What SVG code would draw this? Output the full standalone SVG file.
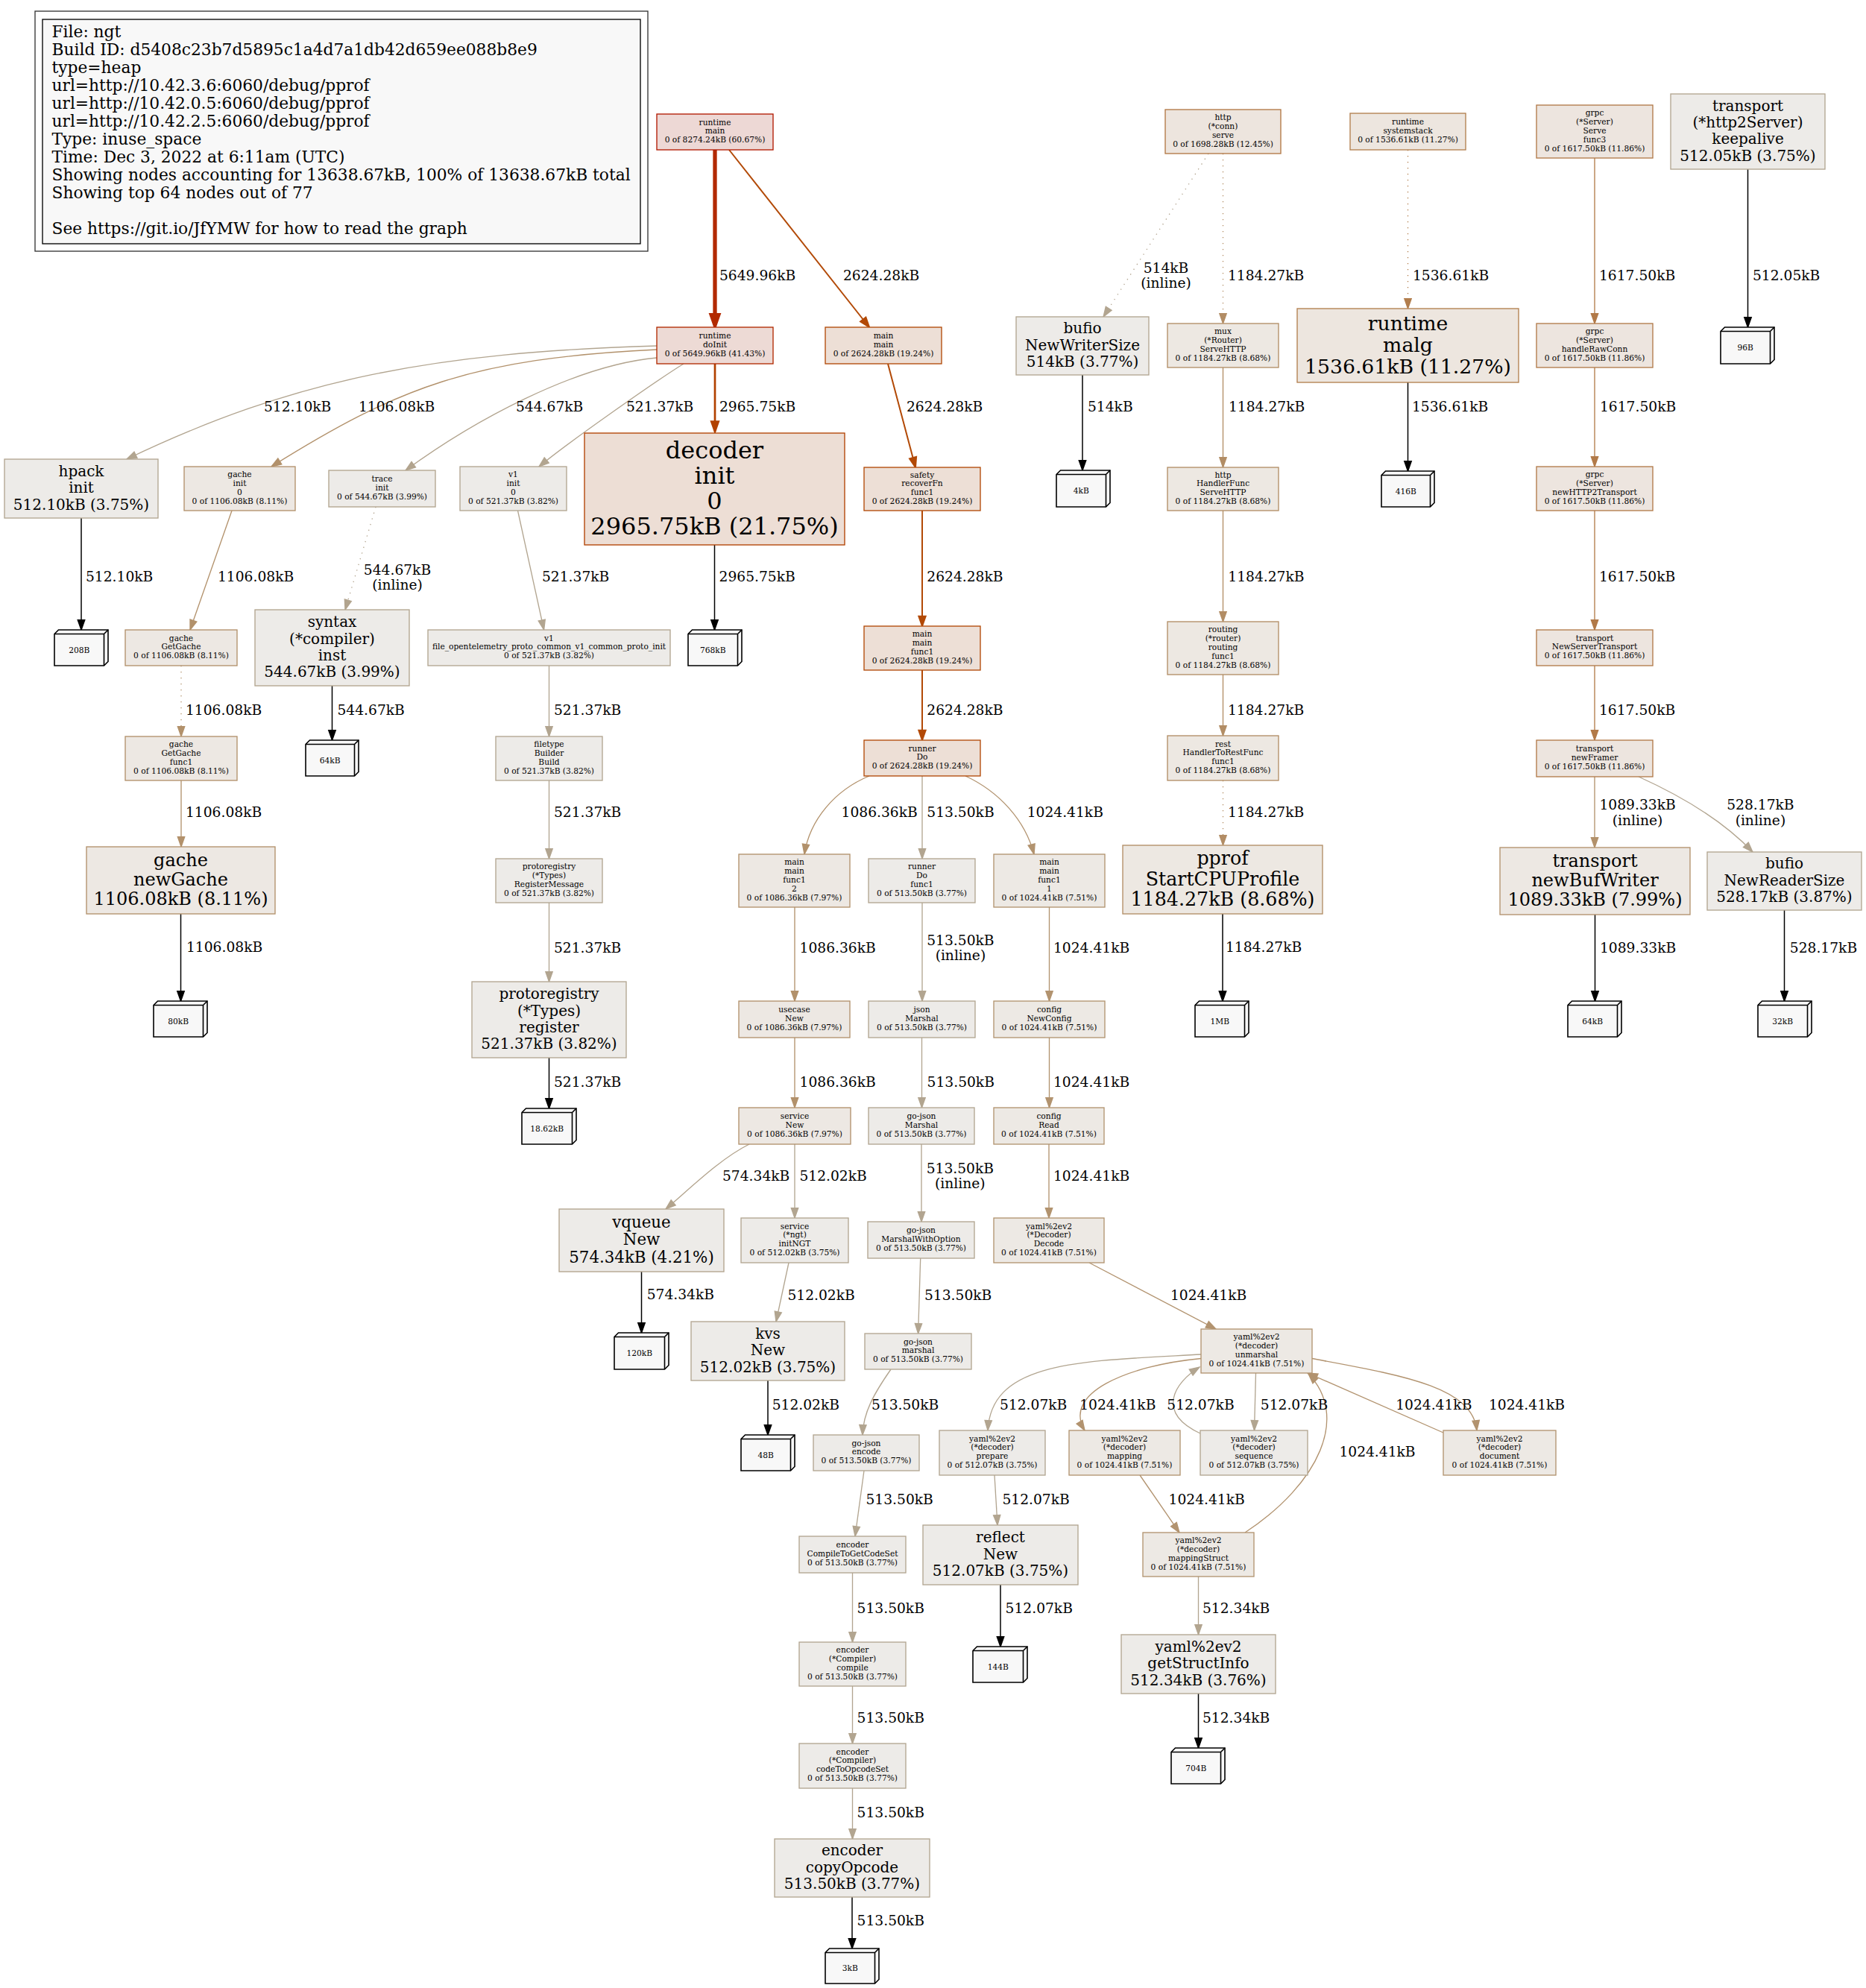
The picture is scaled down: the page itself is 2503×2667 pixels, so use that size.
<svg xmlns="http://www.w3.org/2000/svg" width="2503" height="2667" viewBox="0 0 2503 2667">
<style>
text{font-family:"DejaVu Serif","Liberation Serif",serif;fill:#000}
.s{font-size:10.67px;text-anchor:middle}
.b20{font-size:20px;text-anchor:middle}
.b21{font-size:21.33px;text-anchor:middle}
.b24{font-size:24px;text-anchor:middle}
.b25{font-size:25.33px;text-anchor:middle}
.b26{font-size:26.67px;text-anchor:middle}
.b32{font-size:32px;text-anchor:middle}
.el{font-size:18.67px}
.elc{font-size:18.67px;text-anchor:middle}
.lg{font-size:21.75px}
.t3 text{font-size:10.67px;text-anchor:middle}
rect{stroke-width:1.33}
.t3 path{fill:#f8f8f8;stroke:#000;stroke-width:1.6;stroke-linejoin:miter}
.t3 path.i{fill:none}
.f18 rect{fill:#edd8d5;stroke:#b21800}
.f29 rect{fill:#eddad5;stroke:#b22900}
.f49 rect{fill:#eddfd6;stroke:#b24906}
.f41 rect{fill:#edded5;stroke:#b24100}
.f77 rect{fill:#ede5de;stroke:#b27743}
.f7e rect{fill:#ede6df;stroke:#b27e4d}
.f7a rect{fill:#ede5df;stroke:#b27a48}
.f8d rect{fill:#ede8e2;stroke:#b28d65}
.f90 rect{fill:#ede8e3;stroke:#b2906a}
.f91 rect{fill:#ede8e3;stroke:#b2916b}
.f93 rect{fill:#ede9e4;stroke:#b2936f}
.fa3 rect{fill:#edebe8;stroke:#b2a38c}
.fa4 rect{fill:#edebe8;stroke:#b2a48e}
.fa5 rect{fill:#edebe8;stroke:#b2a590}
#edges path{fill:none;stroke-width:1.33}
#edges .c1{stroke:#b22900;stroke-width:5.3;marker-end:url(#m1)}
#edges .c2{stroke:#b24100;stroke-width:2.7;marker-end:url(#m2)}
#edges .c3{stroke:#b24906;stroke-width:2;marker-end:url(#m3)}
#edges .c4{stroke:#b2a590;marker-end:url(#m4)}
#edges .c5{stroke:#b2916b;marker-end:url(#m5)}
#edges .c6{stroke:#b2a48e;marker-end:url(#m6)}
#edges .c7{stroke:#b2936f;marker-end:url(#m7)}
#edges .c8{stroke:#b28d65;marker-end:url(#m8)}
#edges .c9{stroke:#b27e4d;marker-end:url(#m9)}
#edges .c10{stroke:#b27a48;marker-end:url(#m10)}
#edges .c11{stroke:#b2a38c;marker-end:url(#m11)}
#edges .k{stroke:#000;stroke-width:1.5;marker-end:url(#mk)}
#edges .d{stroke-dasharray:1.33 6.67}
</style>
<defs>
<marker id="m1" markerUnits="userSpaceOnUse" orient="auto" refX="13.33" refY="0" markerWidth="30" markerHeight="30" overflow="visible"><path d="M0,-4.67L13.33,0L0,4.67Z" fill="#b22900" stroke="#b22900" stroke-width="5.3"/></marker>
<marker id="m2" markerUnits="userSpaceOnUse" orient="auto" refX="13.33" refY="0" markerWidth="30" markerHeight="30" overflow="visible"><path d="M0,-4.67L13.33,0L0,4.67Z" fill="#b24100" stroke="#b24100" stroke-width="2.7"/></marker>
<marker id="m3" markerUnits="userSpaceOnUse" orient="auto" refX="13.33" refY="0" markerWidth="30" markerHeight="30" overflow="visible"><path d="M0,-4.67L13.33,0L0,4.67Z" fill="#b24906" stroke="#b24906" stroke-width="2"/></marker>
<marker id="m4" markerUnits="userSpaceOnUse" orient="auto" refX="13.33" refY="0" markerWidth="30" markerHeight="30" overflow="visible"><path d="M0,-4.67L13.33,0L0,4.67Z" fill="#b2a590" stroke="#b2a590" stroke-width="1.33"/></marker>
<marker id="m5" markerUnits="userSpaceOnUse" orient="auto" refX="13.33" refY="0" markerWidth="30" markerHeight="30" overflow="visible"><path d="M0,-4.67L13.33,0L0,4.67Z" fill="#b2916b" stroke="#b2916b" stroke-width="1.33"/></marker>
<marker id="m6" markerUnits="userSpaceOnUse" orient="auto" refX="13.33" refY="0" markerWidth="30" markerHeight="30" overflow="visible"><path d="M0,-4.67L13.33,0L0,4.67Z" fill="#b2a48e" stroke="#b2a48e" stroke-width="1.33"/></marker>
<marker id="m7" markerUnits="userSpaceOnUse" orient="auto" refX="13.33" refY="0" markerWidth="30" markerHeight="30" overflow="visible"><path d="M0,-4.67L13.33,0L0,4.67Z" fill="#b2936f" stroke="#b2936f" stroke-width="1.33"/></marker>
<marker id="m8" markerUnits="userSpaceOnUse" orient="auto" refX="13.33" refY="0" markerWidth="30" markerHeight="30" overflow="visible"><path d="M0,-4.67L13.33,0L0,4.67Z" fill="#b28d65" stroke="#b28d65" stroke-width="1.33"/></marker>
<marker id="m9" markerUnits="userSpaceOnUse" orient="auto" refX="13.33" refY="0" markerWidth="30" markerHeight="30" overflow="visible"><path d="M0,-4.67L13.33,0L0,4.67Z" fill="#b27e4d" stroke="#b27e4d" stroke-width="1.33"/></marker>
<marker id="m10" markerUnits="userSpaceOnUse" orient="auto" refX="13.33" refY="0" markerWidth="30" markerHeight="30" overflow="visible"><path d="M0,-4.67L13.33,0L0,4.67Z" fill="#b27a48" stroke="#b27a48" stroke-width="1.33"/></marker>
<marker id="m11" markerUnits="userSpaceOnUse" orient="auto" refX="13.33" refY="0" markerWidth="30" markerHeight="30" overflow="visible"><path d="M0,-4.67L13.33,0L0,4.67Z" fill="#b2a38c" stroke="#b2a38c" stroke-width="1.33"/></marker>
<marker id="mk" markerUnits="userSpaceOnUse" orient="auto" refX="13.33" refY="0" markerWidth="30" markerHeight="30" overflow="visible"><path d="M0,-4.67L13.33,0L0,4.67Z" fill="#000" stroke="#000" stroke-width="1.5"/></marker>
</defs>
<rect x="0" y="0" width="2503" height="2667" fill="#fff" stroke="none"/>

<g id="legend">
<rect x="47" y="15" width="822" height="322" fill="#fff" stroke="#333" stroke-width="1.7"/>
<rect x="57" y="26" width="802" height="301" fill="#f8f8f8" stroke="#000" stroke-width="1.5"/>
<text class="lg" x="69.5" y="50"><tspan x="69.5">File: ngt</tspan><tspan x="69.5" dy="24">Build ID: d5408c23b7d5895c1a4d7a1db42d659ee088b8e9</tspan><tspan x="69.5" dy="24">type=heap</tspan><tspan x="69.5" dy="24">url=http://10.42.3.6:6060/debug/pprof</tspan><tspan x="69.5" dy="24">url=http://10.42.0.5:6060/debug/pprof</tspan><tspan x="69.5" dy="24">url=http://10.42.2.5:6060/debug/pprof</tspan><tspan x="69.5" dy="24">Type: inuse_space</tspan><tspan x="69.5" dy="24">Time: Dec 3, 2022 at 6:11am (UTC)</tspan><tspan x="69.5" dy="24">Showing nodes accounting for 13638.67kB, 100% of 13638.67kB total</tspan><tspan x="69.5" dy="24">Showing top 64 nodes out of 77</tspan><tspan x="69.5" dy="48">See https://git.io/JfYMW for how to read the graph</tspan></text>
</g>

<g id="edges">
<path class="c1" d="M959,201 L959,436"/>
<path class="c2" d="M959,488 L959,579"/>
<path class="c3" d="M978,201 L1166,439"/>
<path class="c3" d="M1191,488 L1228,627"/>
<path class="c3" d="M1237,685 L1237,840"/>
<path class="c3" d="M1237,899 L1237,993"/>
<path class="c4" d="M881,464 C581,473 395,508 170,616"/>
<path class="c5" d="M881,469 C631,481 534,520 364,626"/>
<path class="c6" d="M881,480 C770,490 633,566 544,631"/>
<path class="c4" d="M917,488 C880,511 760,595 723,626"/>
<path class="c4 d" d="M1621,206 L1480,425"/>
<path class="c8 d" d="M1640.5,206 L1640.5,434"/>
<path class="c9 d" d="M1888.5,201 L1888.5,414"/>
<path class="c10" d="M2139,212 L2139,434"/>
<path class="k" d="M2344.5,227 L2344.5,439"/>
<path class="k" d="M1452,503 L1452,631"/>
<path class="k" d="M1888.5,513 L1888.5,632"/>
<path class="c10" d="M2139,493 L2139,626"/>
<path class="c8" d="M1640.5,493 L1640.5,627"/>
<path class="k" d="M109,695 L109,845"/>
<path class="c5" d="M311,685 L255,845"/>
<path class="c6 d" d="M504,680 L463,818"/>
<path class="c4" d="M694.5,685 L729.6,845"/>
<path class="k" d="M958.5,731 L958.5,845"/>
<path class="c8" d="M1640.5,685 L1640.5,834"/>
<path class="c10" d="M2139,685 L2139,845"/>
<path class="c5 d" d="M243,893 L243,988"/>
<path class="k" d="M445.5,920 L445.5,993"/>
<path class="c4" d="M736.5,893 L736.5,988"/>
<path class="c8" d="M1640.5,905 L1640.5,987"/>
<path class="c10" d="M2139,893 L2139,993"/>
<path class="c5" d="M243,1047 L243,1136"/>
<path class="c4" d="M736.5,1047 L736.5,1152"/>
<path class="c5" d="M1166,1041 C1120,1060 1086,1100 1079,1146"/>
<path class="c4" d="M1237,1041 L1237,1152"/>
<path class="c7" d="M1295,1041 C1340,1062 1375,1100 1387,1146"/>
<path class="c8 d" d="M1640.5,1047 L1640.5,1134"/>
<path class="c5" d="M2139,1042 L2139,1137"/>
<path class="c4" d="M2198,1042 C2260,1070 2315,1105 2351,1143"/>
<path class="k" d="M242.5,1226 L242.5,1343"/>
<path class="c4" d="M736.5,1211 L736.5,1317"/>
<path class="c5" d="M1066,1217 L1066,1343"/>
<path class="c4" d="M1237,1211 L1237,1343"/>
<path class="c7" d="M1407.5,1217 L1407.5,1343"/>
<path class="k" d="M1640,1226 L1640,1343"/>
<path class="k" d="M2139.5,1227 L2139.5,1343"/>
<path class="k" d="M2393.5,1221 L2393.5,1343"/>
<path class="k" d="M736.5,1419 L736.5,1487"/>
<path class="c5" d="M1066,1392 L1066,1486"/>
<path class="c4" d="M1236.5,1392 L1236.5,1486"/>
<path class="c7" d="M1407.5,1392 L1407.5,1486"/>
<path class="c11" d="M1005,1535 C965,1555 925,1595 893,1622"/>
<path class="c4" d="M1066,1535 L1066,1634"/>
<path class="c4" d="M1236,1535 L1236,1639"/>
<path class="c7" d="M1407,1535 L1407,1634"/>
<path class="k" d="M860.5,1706 L860.5,1788"/>
<path class="c4" d="M1058,1694 L1041,1773"/>
<path class="c4" d="M1234.7,1688 L1231.6,1789"/>
<path class="c7" d="M1461,1694 L1631,1783"/>
<path class="k" d="M1030,1852 L1030,1925"/>
<path class="c4" d="M1195,1837 C1172,1870 1158,1895 1157,1925"/>
<path class="c4" d="M1611,1817 C1450,1826 1330,1825 1325,1919"/>
<path class="c7" d="M1611,1822.5 C1510,1832 1425,1870 1455,1919"/>
<path class="c4" d="M1610,1923 C1550,1895 1575,1855 1609,1834"/>
<path class="c4" d="M1684.5,1842 L1682.5,1919"/>
<path class="c7" d="M1936,1922 L1754,1842"/>
<path class="c7" d="M1760,1822.5 C1880,1845 1975,1860 1981,1919"/>
<path class="c7" d="M1670,2056 C1770,1990 1810,1900 1755,1843"/>
<path class="c7" d="M1529,1979 L1582,2056"/>
<path class="c4" d="M1334,1979 L1338,2046"/>
<path class="c4" d="M1159,1973 L1147,2061"/>
<path class="c4" d="M1143.5,2110 L1143.5,2203"/>
<path class="c4" d="M1143.5,2262 L1143.5,2339"/>
<path class="c4" d="M1143.5,2399 L1143.5,2467"/>
<path class="k" d="M1143,2545 L1143,2614"/>
<path class="k" d="M1342,2126 L1342,2209"/>
<path class="c4" d="M1607.5,2115 L1607.5,2193"/>
<path class="k" d="M1607.5,2272 L1607.5,2345"/>

<text class="el" x="965" y="375.7">5649.96kB</text>
<text class="el" x="1131" y="375.7">2624.28kB</text>
<text class="el" x="965" y="551.7">2965.75kB</text>
<text class="el" x="1216" y="551.7">2624.28kB</text>
<text class="el" x="1459" y="551.7">514kB</text>
<text class="elc" x="1564" y="366"><tspan x="1564">514kB</tspan><tspan x="1564" dy="20">(inline)</tspan></text>
<text class="el" x="1647" y="375.7">1184.27kB</text>
<text class="el" x="1895" y="375.7">1536.61kB</text>
<text class="el" x="2145" y="375.7">1617.50kB</text>
<text class="el" x="2351" y="375.7">512.05kB</text>
<text class="el" x="354" y="551.7">512.10kB</text>
<text class="el" x="481" y="551.7">1106.08kB</text>
<text class="el" x="692" y="551.7">544.67kB</text>
<text class="el" x="840" y="551.7">521.37kB</text>
<text class="el" x="1648" y="551.7">1184.27kB</text>
<text class="el" x="1894" y="551.7">1536.61kB</text>
<text class="el" x="2146" y="551.7">1617.50kB</text>
<text class="el" x="115" y="780.3">512.10kB</text>
<text class="el" x="292" y="780.3">1106.08kB</text>
<text class="elc" x="533" y="770.7"><tspan x="533">544.67kB</tspan><tspan x="533" dy="20">(inline)</tspan></text>
<text class="el" x="727" y="780.3">521.37kB</text>
<text class="el" x="964.6" y="780.3">2965.75kB</text>
<text class="el" x="1243.3" y="779.7">2624.28kB</text>
<text class="el" x="1647.3" y="779.7">1184.27kB</text>
<text class="el" x="2145" y="780.4">1617.50kB</text>
<text class="el" x="249" y="958.7">1106.08kB</text>
<text class="el" x="452.5" y="958.7">544.67kB</text>
<text class="el" x="743" y="958.7">521.37kB</text>
<text class="el" x="1243.3" y="958.9">2624.28kB</text>
<text class="el" x="1647" y="958.7">1184.27kB</text>
<text class="el" x="2145" y="959">1617.50kB</text>
<text class="el" x="249" y="1096">1106.08kB</text>
<text class="el" x="743" y="1095.7">521.37kB</text>
<text class="el" x="1128.6" y="1096.1">1086.36kB</text>
<text class="el" x="1243.3" y="1096.1">513.50kB</text>
<text class="el" x="1377.7" y="1096.1">1024.41kB</text>
<text class="el" x="1647" y="1095.7">1184.27kB</text>
<text class="elc" x="2196.6" y="1086"><tspan x="2196.6">1089.33kB</tspan><tspan x="2196.6" dy="20.7">(inline)</tspan></text>
<text class="elc" x="2361.4" y="1085.7"><tspan x="2361.4">528.17kB</tspan><tspan x="2361.4" dy="21">(inline)</tspan></text>
<text class="el" x="250" y="1276.7">1106.08kB</text>
<text class="el" x="743" y="1278.4">521.37kB</text>
<text class="el" x="1072.6" y="1278.4">1086.36kB</text>
<text class="elc" x="1288.4" y="1268.4"><tspan x="1288.4">513.50kB</tspan><tspan x="1288.4" dy="20">(inline)</tspan></text>
<text class="el" x="1413" y="1278.4">1024.41kB</text>
<text class="el" x="1644" y="1276.7">1184.27kB</text>
<text class="el" x="2146" y="1277.7">1089.33kB</text>
<text class="el" x="2400.8" y="1277.7">528.17kB</text>
<text class="el" x="743" y="1457.7">521.37kB</text>
<text class="el" x="1072.6" y="1457.7">1086.36kB</text>
<text class="el" x="1243.6" y="1457.7">513.50kB</text>
<text class="el" x="1413" y="1457.7">1024.41kB</text>
<text class="el" x="969" y="1584">574.34kB</text>
<text class="el" x="1072.4" y="1584">512.02kB</text>
<text class="elc" x="1287.8" y="1574.1"><tspan x="1287.8">513.50kB</tspan><tspan x="1287.8" dy="20.2">(inline)</tspan></text>
<text class="el" x="1413" y="1584">1024.41kB</text>
<text class="el" x="867.7" y="1743.4">574.34kB</text>
<text class="el" x="1056.4" y="1744.2">512.02kB</text>
<text class="el" x="1240" y="1744.2">513.50kB</text>
<text class="el" x="1570" y="1744.2">1024.41kB</text>
<text class="el" x="1035.7" y="1890.7">512.02kB</text>
<text class="el" x="1168.9" y="1890.7">513.50kB</text>
<text class="el" x="1341" y="1890.7">512.07kB</text>
<text class="el" x="1448.2" y="1890.7">1024.41kB</text>
<text class="el" x="1565.3" y="1890.7">512.07kB</text>
<text class="el" x="1690.8" y="1890.7">512.07kB</text>
<text class="el" x="1872.2" y="1890.7">1024.41kB</text>
<text class="el" x="1996.9" y="1890.7">1024.41kB</text>
<text class="el" x="1796.4" y="1954.1">1024.41kB</text>
<text class="el" x="1161.5" y="2017.7">513.50kB</text>
<text class="el" x="1344.4" y="2017.7">512.07kB</text>
<text class="el" x="1567.6" y="2018.2">1024.41kB</text>
<text class="el" x="1149.6" y="2163.5">513.50kB</text>
<text class="el" x="1348.6" y="2163.5">512.07kB</text>
<text class="el" x="1613" y="2164">512.34kB</text>
<text class="el" x="1149.6" y="2310.7">513.50kB</text>
<text class="el" x="1613" y="2311">512.34kB</text>
<text class="el" x="1149.6" y="2437.5">513.50kB</text>
<text class="el" x="1149.6" y="2583.3">513.50kB</text>
</g>

<g id="n1" class="f18"><rect x="881" y="153" width="156" height="48"/><text class="s" x="959" y="167.5"><tspan x="959">runtime</tspan><tspan x="959" dy="11.85">main</tspan><tspan x="959" dy="11.85">0 of 8274.24kB (60.67%)</tspan></text></g>
<g id="n2" class="f29"><rect x="881" y="439" width="156" height="49"/><text class="s" x="959" y="454"><tspan x="959">runtime</tspan><tspan x="959" dy="11.85">doInit</tspan><tspan x="959" dy="11.85">0 of 5649.96kB (41.43%)</tspan></text></g>
<g id="n3" class="f49"><rect x="1107" y="439" width="156" height="49"/><text class="s" x="1185" y="454"><tspan x="1185">main</tspan><tspan x="1185" dy="11.85">main</tspan><tspan x="1185" dy="11.85">0 of 2624.28kB (19.24%)</tspan></text></g>
<g id="n4" class="f77"><rect x="1563" y="147" width="155" height="59"/><text class="s" x="1640.5" y="161.06"><tspan x="1640.5">http</tspan><tspan x="1640.5" dy="11.85">(*conn)</tspan><tspan x="1640.5" dy="11.85">serve</tspan><tspan x="1640.5" dy="11.85">0 of 1698.28kB (12.45%)</tspan></text></g>
<g id="n5" class="f7e"><rect x="1811" y="152" width="155" height="49"/><text class="s" x="1888.5" y="167"><tspan x="1888.5">runtime</tspan><tspan x="1888.5" dy="11.85">systemstack</tspan><tspan x="1888.5" dy="11.85">0 of 1536.61kB (11.27%)</tspan></text></g>
<g id="n6" class="f7a"><rect x="2061" y="141" width="156" height="71"/><text class="s" x="2139" y="155.14"><tspan x="2139">grpc</tspan><tspan x="2139" dy="11.85">(*Server)</tspan><tspan x="2139" dy="11.85">Serve</tspan><tspan x="2139" dy="11.85">func3</tspan><tspan x="2139" dy="11.85">0 of 1617.50kB (11.86%)</tspan></text></g>
<g id="n7" class="f8d"><rect x="1566" y="434" width="149" height="59"/><text class="s" x="1640.5" y="448.06"><tspan x="1640.5">mux</tspan><tspan x="1640.5" dy="11.85">(*Router)</tspan><tspan x="1640.5" dy="11.85">ServeHTTP</tspan><tspan x="1640.5" dy="11.85">0 of 1184.27kB (8.68%)</tspan></text></g>
<g id="n8" class="f7a"><rect x="2061" y="434" width="156" height="59"/><text class="s" x="2139" y="448.06"><tspan x="2139">grpc</tspan><tspan x="2139" dy="11.85">(*Server)</tspan><tspan x="2139" dy="11.85">handleRawConn</tspan><tspan x="2139" dy="11.85">0 of 1617.50kB (11.86%)</tspan></text></g>
<g id="n9" class="f90"><rect x="247" y="626" width="149" height="59"/><text class="s" x="321.5" y="640.06"><tspan x="321.5">gache</tspan><tspan x="321.5" dy="11.85">init</tspan><tspan x="321.5" dy="11.85">0</tspan><tspan x="321.5" dy="11.85">0 of 1106.08kB (8.11%)</tspan></text></g>
<g id="n10" class="fa4"><rect x="441" y="631" width="143" height="49"/><text class="s" x="512.5" y="646"><tspan x="512.5">trace</tspan><tspan x="512.5" dy="11.85">init</tspan><tspan x="512.5" dy="11.85">0 of 544.67kB (3.99%)</tspan></text></g>
<g id="n11" class="fa5"><rect x="617" y="626" width="143" height="59"/><text class="s" x="688.5" y="640.06"><tspan x="688.5">v1</tspan><tspan x="688.5" dy="11.85">init</tspan><tspan x="688.5" dy="11.85">0</tspan><tspan x="688.5" dy="11.85">0 of 521.37kB (3.82%)</tspan></text></g>
<g id="n12" class="f49"><rect x="1159" y="627" width="156" height="58"/><text class="s" x="1237" y="640.56"><tspan x="1237">safety</tspan><tspan x="1237" dy="11.85">recoverFn</tspan><tspan x="1237" dy="11.85">func1</tspan><tspan x="1237" dy="11.85">0 of 2624.28kB (19.24%)</tspan></text></g>
<g id="n13" class="f8d"><rect x="1566" y="627" width="149" height="58"/><text class="s" x="1640.5" y="640.56"><tspan x="1640.5">http</tspan><tspan x="1640.5" dy="11.85">HandlerFunc</tspan><tspan x="1640.5" dy="11.85">ServeHTTP</tspan><tspan x="1640.5" dy="11.85">0 of 1184.27kB (8.68%)</tspan></text></g>
<g id="n14" class="f7a"><rect x="2061" y="626" width="156" height="59"/><text class="s" x="2139" y="640.06"><tspan x="2139">grpc</tspan><tspan x="2139" dy="11.85">(*Server)</tspan><tspan x="2139" dy="11.85">newHTTP2Transport</tspan><tspan x="2139" dy="11.85">0 of 1617.50kB (11.86%)</tspan></text></g>
<g id="n15" class="f90"><rect x="168" y="845" width="150" height="48"/><text class="s" x="243" y="859.5"><tspan x="243">gache</tspan><tspan x="243" dy="11.85">GetGache</tspan><tspan x="243" dy="11.85">0 of 1106.08kB (8.11%)</tspan></text></g>
<g id="n16" class="fa5"><rect x="574" y="845" width="325" height="48"/><text class="s" x="736.5" y="859.5"><tspan x="736.5">v1</tspan><tspan x="736.5" dy="11.85">file_opentelemetry_proto_common_v1_common_proto_init</tspan><tspan x="736.5" dy="11.85">0 of 521.37kB (3.82%)</tspan></text></g>
<g id="n17" class="f49"><rect x="1159" y="840" width="156" height="59"/><text class="s" x="1237" y="854.06"><tspan x="1237">main</tspan><tspan x="1237" dy="11.85">main</tspan><tspan x="1237" dy="11.85">func1</tspan><tspan x="1237" dy="11.85">0 of 2624.28kB (19.24%)</tspan></text></g>
<g id="n18" class="f8d"><rect x="1566" y="834" width="149" height="71"/><text class="s" x="1640.5" y="848.14"><tspan x="1640.5">routing</tspan><tspan x="1640.5" dy="11.85">(*router)</tspan><tspan x="1640.5" dy="11.85">routing</tspan><tspan x="1640.5" dy="11.85">func1</tspan><tspan x="1640.5" dy="11.85">0 of 1184.27kB (8.68%)</tspan></text></g>
<g id="n19" class="f7a"><rect x="2061" y="845" width="156" height="48"/><text class="s" x="2139" y="859.5"><tspan x="2139">transport</tspan><tspan x="2139" dy="11.85">NewServerTransport</tspan><tspan x="2139" dy="11.85">0 of 1617.50kB (11.86%)</tspan></text></g>
<g id="n20" class="f90"><rect x="168" y="988" width="150" height="59"/><text class="s" x="243" y="1002.06"><tspan x="243">gache</tspan><tspan x="243" dy="11.85">GetGache</tspan><tspan x="243" dy="11.85">func1</tspan><tspan x="243" dy="11.85">0 of 1106.08kB (8.11%)</tspan></text></g>
<g id="n21" class="fa5"><rect x="665" y="988" width="143" height="59"/><text class="s" x="736.5" y="1002.06"><tspan x="736.5">filetype</tspan><tspan x="736.5" dy="11.85">Builder</tspan><tspan x="736.5" dy="11.85">Build</tspan><tspan x="736.5" dy="11.85">0 of 521.37kB (3.82%)</tspan></text></g>
<g id="n22" class="f49"><rect x="1159" y="993" width="156" height="48"/><text class="s" x="1237" y="1007.5"><tspan x="1237">runner</tspan><tspan x="1237" dy="11.85">Do</tspan><tspan x="1237" dy="11.85">0 of 2624.28kB (19.24%)</tspan></text></g>
<g id="n23" class="f8d"><rect x="1566" y="987" width="149" height="60"/><text class="s" x="1640.5" y="1001.56"><tspan x="1640.5">rest</tspan><tspan x="1640.5" dy="11.85">HandlerToRestFunc</tspan><tspan x="1640.5" dy="11.85">func1</tspan><tspan x="1640.5" dy="11.85">0 of 1184.27kB (8.68%)</tspan></text></g>
<g id="n24" class="f7a"><rect x="2061" y="993" width="156" height="49"/><text class="s" x="2139" y="1008"><tspan x="2139">transport</tspan><tspan x="2139" dy="11.85">newFramer</tspan><tspan x="2139" dy="11.85">0 of 1617.50kB (11.86%)</tspan></text></g>
<g id="n25" class="f91"><rect x="991" y="1146" width="149" height="71"/><text class="s" x="1065.5" y="1160.14"><tspan x="1065.5">main</tspan><tspan x="1065.5" dy="11.85">main</tspan><tspan x="1065.5" dy="11.85">func1</tspan><tspan x="1065.5" dy="11.85">2</tspan><tspan x="1065.5" dy="11.85">0 of 1086.36kB (7.97%)</tspan></text></g>
<g id="n26" class="fa5"><rect x="665" y="1152" width="143" height="59"/><text class="s" x="736.5" y="1166.06"><tspan x="736.5">protoregistry</tspan><tspan x="736.5" dy="11.85">(*Types)</tspan><tspan x="736.5" dy="11.85">RegisterMessage</tspan><tspan x="736.5" dy="11.85">0 of 521.37kB (3.82%)</tspan></text></g>
<g id="n27" class="fa5"><rect x="1165" y="1152" width="143" height="59"/><text class="s" x="1236.5" y="1166.06"><tspan x="1236.5">runner</tspan><tspan x="1236.5" dy="11.85">Do</tspan><tspan x="1236.5" dy="11.85">func1</tspan><tspan x="1236.5" dy="11.85">0 of 513.50kB (3.77%)</tspan></text></g>
<g id="n28" class="f93"><rect x="1333" y="1146" width="149" height="71"/><text class="s" x="1407.5" y="1160.14"><tspan x="1407.5">main</tspan><tspan x="1407.5" dy="11.85">main</tspan><tspan x="1407.5" dy="11.85">func1</tspan><tspan x="1407.5" dy="11.85">1</tspan><tspan x="1407.5" dy="11.85">0 of 1024.41kB (7.51%)</tspan></text></g>
<g id="n29" class="f91"><rect x="991" y="1343" width="149" height="49"/><text class="s" x="1065.5" y="1358"><tspan x="1065.5">usecase</tspan><tspan x="1065.5" dy="11.85">New</tspan><tspan x="1065.5" dy="11.85">0 of 1086.36kB (7.97%)</tspan></text></g>
<g id="n30" class="fa5"><rect x="1165" y="1343" width="143" height="49"/><text class="s" x="1236.5" y="1358"><tspan x="1236.5">json</tspan><tspan x="1236.5" dy="11.85">Marshal</tspan><tspan x="1236.5" dy="11.85">0 of 513.50kB (3.77%)</tspan></text></g>
<g id="n31" class="f93"><rect x="1333" y="1343" width="149" height="49"/><text class="s" x="1407.5" y="1358"><tspan x="1407.5">config</tspan><tspan x="1407.5" dy="11.85">NewConfig</tspan><tspan x="1407.5" dy="11.85">0 of 1024.41kB (7.51%)</tspan></text></g>
<g id="n32" class="f91"><rect x="991" y="1486" width="150" height="49"/><text class="s" x="1066" y="1501"><tspan x="1066">service</tspan><tspan x="1066" dy="11.85">New</tspan><tspan x="1066" dy="11.85">0 of 1086.36kB (7.97%)</tspan></text></g>
<g id="n33" class="fa5"><rect x="1165" y="1486" width="142" height="49"/><text class="s" x="1236" y="1501"><tspan x="1236">go-json</tspan><tspan x="1236" dy="11.85">Marshal</tspan><tspan x="1236" dy="11.85">0 of 513.50kB (3.77%)</tspan></text></g>
<g id="n34" class="f93"><rect x="1333" y="1486" width="148" height="49"/><text class="s" x="1407" y="1501"><tspan x="1407">config</tspan><tspan x="1407" dy="11.85">Read</tspan><tspan x="1407" dy="11.85">0 of 1024.41kB (7.51%)</tspan></text></g>
<g id="n35" class="fa5"><rect x="994" y="1634" width="144" height="60"/><text class="s" x="1066" y="1648.56"><tspan x="1066">service</tspan><tspan x="1066" dy="11.85">(*ngt)</tspan><tspan x="1066" dy="11.85">initNGT</tspan><tspan x="1066" dy="11.85">0 of 512.02kB (3.75%)</tspan></text></g>
<g id="n36" class="fa5"><rect x="1164" y="1639" width="143" height="49"/><text class="s" x="1235.5" y="1654"><tspan x="1235.5">go-json</tspan><tspan x="1235.5" dy="11.85">MarshalWithOption</tspan><tspan x="1235.5" dy="11.85">0 of 513.50kB (3.77%)</tspan></text></g>
<g id="n37" class="f93"><rect x="1333" y="1634" width="148" height="60"/><text class="s" x="1407" y="1648.56"><tspan x="1407">yaml%2ev2</tspan><tspan x="1407" dy="11.85">(*Decoder)</tspan><tspan x="1407" dy="11.85">Decode</tspan><tspan x="1407" dy="11.85">0 of 1024.41kB (7.51%)</tspan></text></g>
<g id="n38" class="fa5"><rect x="1160" y="1789" width="143" height="48"/><text class="s" x="1231.5" y="1803.5"><tspan x="1231.5">go-json</tspan><tspan x="1231.5" dy="11.85">marshal</tspan><tspan x="1231.5" dy="11.85">0 of 513.50kB (3.77%)</tspan></text></g>
<g id="n39" class="f93"><rect x="1611" y="1783" width="149" height="59"/><text class="s" x="1685.5" y="1797.06"><tspan x="1685.5">yaml%2ev2</tspan><tspan x="1685.5" dy="11.85">(*decoder)</tspan><tspan x="1685.5" dy="11.85">unmarshal</tspan><tspan x="1685.5" dy="11.85">0 of 1024.41kB (7.51%)</tspan></text></g>
<g id="n40" class="fa5"><rect x="1091" y="1925" width="142" height="48"/><text class="s" x="1162" y="1939.5"><tspan x="1162">go-json</tspan><tspan x="1162" dy="11.85">encode</tspan><tspan x="1162" dy="11.85">0 of 513.50kB (3.77%)</tspan></text></g>
<g id="n41" class="fa5"><rect x="1260" y="1919" width="142" height="60"/><text class="s" x="1331" y="1933.56"><tspan x="1331">yaml%2ev2</tspan><tspan x="1331" dy="11.85">(*decoder)</tspan><tspan x="1331" dy="11.85">prepare</tspan><tspan x="1331" dy="11.85">0 of 512.07kB (3.75%)</tspan></text></g>
<g id="n42" class="f93"><rect x="1434" y="1919" width="149" height="60"/><text class="s" x="1508.5" y="1933.56"><tspan x="1508.5">yaml%2ev2</tspan><tspan x="1508.5" dy="11.85">(*decoder)</tspan><tspan x="1508.5" dy="11.85">mapping</tspan><tspan x="1508.5" dy="11.85">0 of 1024.41kB (7.51%)</tspan></text></g>
<g id="n43" class="fa5"><rect x="1610" y="1919" width="144" height="60"/><text class="s" x="1682" y="1933.56"><tspan x="1682">yaml%2ev2</tspan><tspan x="1682" dy="11.85">(*decoder)</tspan><tspan x="1682" dy="11.85">sequence</tspan><tspan x="1682" dy="11.85">0 of 512.07kB (3.75%)</tspan></text></g>
<g id="n44" class="f93"><rect x="1936" y="1919" width="151" height="60"/><text class="s" x="2011.5" y="1933.56"><tspan x="2011.5">yaml%2ev2</tspan><tspan x="2011.5" dy="11.85">(*decoder)</tspan><tspan x="2011.5" dy="11.85">document</tspan><tspan x="2011.5" dy="11.85">0 of 1024.41kB (7.51%)</tspan></text></g>
<g id="n45" class="fa5"><rect x="1072" y="2061" width="143" height="49"/><text class="s" x="1143.5" y="2076"><tspan x="1143.5">encoder</tspan><tspan x="1143.5" dy="11.85">CompileToGetCodeSet</tspan><tspan x="1143.5" dy="11.85">0 of 513.50kB (3.77%)</tspan></text></g>
<g id="n46" class="f93"><rect x="1533" y="2056" width="149" height="59"/><text class="s" x="1607.5" y="2070.06"><tspan x="1607.5">yaml%2ev2</tspan><tspan x="1607.5" dy="11.85">(*decoder)</tspan><tspan x="1607.5" dy="11.85">mappingStruct</tspan><tspan x="1607.5" dy="11.85">0 of 1024.41kB (7.51%)</tspan></text></g>
<g id="n47" class="fa5"><rect x="1072" y="2203" width="143" height="59"/><text class="s" x="1143.5" y="2217.06"><tspan x="1143.5">encoder</tspan><tspan x="1143.5" dy="11.85">(*Compiler)</tspan><tspan x="1143.5" dy="11.85">compile</tspan><tspan x="1143.5" dy="11.85">0 of 513.50kB (3.77%)</tspan></text></g>
<g id="n48" class="fa5"><rect x="1072" y="2339" width="143" height="60"/><text class="s" x="1143.5" y="2353.56"><tspan x="1143.5">encoder</tspan><tspan x="1143.5" dy="11.85">(*Compiler)</tspan><tspan x="1143.5" dy="11.85">codeToOpcodeSet</tspan><tspan x="1143.5" dy="11.85">0 of 513.50kB (3.77%)</tspan></text></g>

<g id="b1" class="fa5"><rect x="2241" y="126" width="207" height="101"/><text class="b20" x="2344.5" y="148.75"><tspan x="2344.5">transport</tspan><tspan x="2344.5" dy="22.3">(*http2Server)</tspan><tspan x="2344.5" dy="22.3">keepalive</tspan><tspan x="2344.5" dy="22.3">512.05kB (3.75%)</tspan></text></g>
<g id="b2" class="fa5"><rect x="1363" y="425" width="178" height="78"/><text class="b20" x="1452" y="447.4"><tspan x="1452">bufio</tspan><tspan x="1452" dy="22.3">NewWriterSize</tspan><tspan x="1452" dy="22.3">514kB (3.77%)</tspan></text></g>
<g id="b3" class="f7e"><rect x="1740" y="414" width="297" height="99"/><text class="b26" x="1888.5" y="442.6"><tspan x="1888.5">runtime</tspan><tspan x="1888.5" dy="29">malg</tspan><tspan x="1888.5" dy="29">1536.61kB (11.27%)</tspan></text></g>
<g id="b4" class="fa5"><rect x="6" y="616" width="206" height="79"/><text class="b20" x="109" y="638.9"><tspan x="109">hpack</tspan><tspan x="109" dy="22.3">init</tspan><tspan x="109" dy="22.3">512.10kB (3.75%)</tspan></text></g>
<g id="b5" class="f41"><rect x="784" y="581" width="349" height="150"/><text class="b32" x="958.5" y="614.55"><tspan x="958.5">decoder</tspan><tspan x="958.5" dy="34.3">init</tspan><tspan x="958.5" dy="34.3">0</tspan><tspan x="958.5" dy="34.3">2965.75kB (21.75%)</tspan></text></g>
<g id="b6" class="fa4"><rect x="342" y="818" width="207" height="102"/><text class="b20" x="445.5" y="841.25"><tspan x="445.5">syntax</tspan><tspan x="445.5" dy="22.3">(*compiler)</tspan><tspan x="445.5" dy="22.3">inst</tspan><tspan x="445.5" dy="22.3">544.67kB (3.99%)</tspan></text></g>
<g id="b7" class="f90"><rect x="116" y="1136" width="253" height="90"/><text class="b24" x="242.5" y="1161.94"><tspan x="242.5">gache</tspan><tspan x="242.5" dy="26.2">newGache</tspan><tspan x="242.5" dy="26.2">1106.08kB (8.11%)</tspan></text></g>
<g id="b8" class="f8d"><rect x="1506" y="1134" width="268" height="92"/><text class="b25" x="1640" y="1160"><tspan x="1640">pprof</tspan><tspan x="1640" dy="27.6">StartCPUProfile</tspan><tspan x="1640" dy="27.6">1184.27kB (8.68%)</tspan></text></g>
<g id="b9" class="f91"><rect x="2012" y="1137" width="255" height="90"/><text class="b24" x="2139.5" y="1162.94"><tspan x="2139.5">transport</tspan><tspan x="2139.5" dy="26.2">newBufWriter</tspan><tspan x="2139.5" dy="26.2">1089.33kB (7.99%)</tspan></text></g>
<g id="b10" class="fa5"><rect x="2290" y="1143" width="207" height="78"/><text class="b20" x="2393.5" y="1165.4"><tspan x="2393.5">bufio</tspan><tspan x="2393.5" dy="22.3">NewReaderSize</tspan><tspan x="2393.5" dy="22.3">528.17kB (3.87%)</tspan></text></g>
<g id="b11" class="fa5"><rect x="633" y="1317" width="207" height="102"/><text class="b20" x="736.5" y="1340.25"><tspan x="736.5">protoregistry</tspan><tspan x="736.5" dy="22.3">(*Types)</tspan><tspan x="736.5" dy="22.3">register</tspan><tspan x="736.5" dy="22.3">521.37kB (3.82%)</tspan></text></g>
<g id="b12" class="fa3"><rect x="750" y="1622" width="221" height="84"/><text class="b21" x="860.5" y="1646.5"><tspan x="860.5">vqueue</tspan><tspan x="860.5" dy="23.7">New</tspan><tspan x="860.5" dy="23.7">574.34kB (4.21%)</tspan></text></g>
<g id="b13" class="fa5"><rect x="927" y="1773" width="206" height="79"/><text class="b20" x="1030" y="1795.9"><tspan x="1030">kvs</tspan><tspan x="1030" dy="22.3">New</tspan><tspan x="1030" dy="22.3">512.02kB (3.75%)</tspan></text></g>
<g id="b14" class="fa5"><rect x="1238" y="2046" width="208" height="80"/><text class="b20" x="1342" y="2069.4"><tspan x="1342">reflect</tspan><tspan x="1342" dy="22.3">New</tspan><tspan x="1342" dy="22.3">512.07kB (3.75%)</tspan></text></g>
<g id="b15" class="fa5"><rect x="1504" y="2193" width="207" height="79"/><text class="b20" x="1607.5" y="2215.9"><tspan x="1607.5">yaml%2ev2</tspan><tspan x="1607.5" dy="22.3">getStructInfo</tspan><tspan x="1607.5" dy="22.3">512.34kB (3.76%)</tspan></text></g>
<g id="b16" class="fa5"><rect x="1039" y="2467" width="208" height="78"/><text class="b20" x="1143" y="2489.4"><tspan x="1143">encoder</tspan><tspan x="1143" dy="22.3">copyOpcode</tspan><tspan x="1143" dy="22.3">513.50kB (3.77%)</tspan></text></g>

<g id="t96B" class="t3"><path d="M2308,444.5 L2313.5,439 L2380,439 L2380,482.5 L2374.5,488 L2308,488 Z"/><path class="i" d="M2308,444.5 L2374.5,444.5 L2374.5,488 M2374.5,444.5 L2380,439"/><text x="2341.25" y="470.1">96B</text></g>
<g id="t4kB" class="t3"><path d="M1417,636.5 L1422.5,631 L1489,631 L1489,674.5 L1483.5,680 L1417,680 Z"/><path class="i" d="M1417,636.5 L1483.5,636.5 L1483.5,680 M1483.5,636.5 L1489,631"/><text x="1450.25" y="662.1">4kB</text></g>
<g id="t416B" class="t3"><path d="M1853,637.5 L1858.5,632 L1924,632 L1924,674.5 L1918.5,680 L1853,680 Z"/><path class="i" d="M1853,637.5 L1918.5,637.5 L1918.5,680 M1918.5,637.5 L1924,632"/><text x="1885.75" y="662.6">416B</text></g>
<g id="t208B" class="t3"><path d="M73,850.5 L78.5,845 L145,845 L145,887.5 L139.5,893 L73,893 Z"/><path class="i" d="M73,850.5 L139.5,850.5 L139.5,893 M139.5,850.5 L145,845"/><text x="106.25" y="875.6">208B</text></g>
<g id="t768kB" class="t3"><path d="M923,850.5 L928.5,845 L995,845 L995,887.5 L989.5,893 L923,893 Z"/><path class="i" d="M923,850.5 L989.5,850.5 L989.5,893 M989.5,850.5 L995,845"/><text x="956.25" y="875.6">768kB</text></g>
<g id="t64kB-a" class="t3"><path d="M410,998.5 L415.5,993 L481,993 L481,1035.5 L475.5,1041 L410,1041 Z"/><path class="i" d="M410,998.5 L475.5,998.5 L475.5,1041 M475.5,998.5 L481,993"/><text x="442.75" y="1023.6">64kB</text></g>
<g id="t80kB" class="t3"><path d="M206,1348.5 L211.5,1343 L278,1343 L278,1385.5 L272.5,1391 L206,1391 Z"/><path class="i" d="M206,1348.5 L272.5,1348.5 L272.5,1391 M272.5,1348.5 L278,1343"/><text x="239.25" y="1373.6">80kB</text></g>
<g id="t1MB" class="t3"><path d="M1603,1348.5 L1608.5,1343 L1675,1343 L1675,1385.5 L1669.5,1391 L1603,1391 Z"/><path class="i" d="M1603,1348.5 L1669.5,1348.5 L1669.5,1391 M1669.5,1348.5 L1675,1343"/><text x="1636.25" y="1373.6">1MB</text></g>
<g id="t64kB-b" class="t3"><path d="M2103,1348.5 L2108.5,1343 L2175,1343 L2175,1385.5 L2169.5,1391 L2103,1391 Z"/><path class="i" d="M2103,1348.5 L2169.5,1348.5 L2169.5,1391 M2169.5,1348.5 L2175,1343"/><text x="2136.25" y="1373.6">64kB</text></g>
<g id="t32kB" class="t3"><path d="M2358,1348.5 L2363.5,1343 L2430,1343 L2430,1385.5 L2424.5,1391 L2358,1391 Z"/><path class="i" d="M2358,1348.5 L2424.5,1348.5 L2424.5,1391 M2424.5,1348.5 L2430,1343"/><text x="2391.25" y="1373.6">32kB</text></g>
<g id="t18kB" class="t3"><path d="M700,1492.5 L705.5,1487 L773,1487 L773,1529.5 L767.5,1535 L700,1535 Z"/><path class="i" d="M700,1492.5 L767.5,1492.5 L767.5,1535 M767.5,1492.5 L773,1487"/><text x="733.75" y="1517.6">18.62kB</text></g>
<g id="t120kB" class="t3"><path d="M824,1793.5 L829.5,1788 L897,1788 L897,1831.5 L891.5,1837 L824,1837 Z"/><path class="i" d="M824,1793.5 L891.5,1793.5 L891.5,1837 M891.5,1793.5 L897,1788"/><text x="857.75" y="1819.1">120kB</text></g>
<g id="t48B" class="t3"><path d="M994,1930.5 L999.5,1925 L1066,1925 L1066,1967.5 L1060.5,1973 L994,1973 Z"/><path class="i" d="M994,1930.5 L1060.5,1930.5 L1060.5,1973 M1060.5,1930.5 L1066,1925"/><text x="1027.25" y="1955.6">48B</text></g>
<g id="t144B" class="t3"><path d="M1305,2214.5 L1310.5,2209 L1378,2209 L1378,2251.5 L1372.5,2257 L1305,2257 Z"/><path class="i" d="M1305,2214.5 L1372.5,2214.5 L1372.5,2257 M1372.5,2214.5 L1378,2209"/><text x="1338.75" y="2239.6">144B</text></g>
<g id="t704B" class="t3"><path d="M1571,2350.5 L1576.5,2345 L1643,2345 L1643,2387.5 L1637.5,2393 L1571,2393 Z"/><path class="i" d="M1571,2350.5 L1637.5,2350.5 L1637.5,2393 M1637.5,2350.5 L1643,2345"/><text x="1604.25" y="2375.6">704B</text></g>
<g id="t3kB" class="t3"><path d="M1107,2619.5 L1112.5,2614 L1179,2614 L1179,2655.5 L1173.5,2661 L1107,2661 Z"/><path class="i" d="M1107,2619.5 L1173.5,2619.5 L1173.5,2661 M1173.5,2619.5 L1179,2614"/><text x="1140.25" y="2644.1">3kB</text></g>
</svg>
